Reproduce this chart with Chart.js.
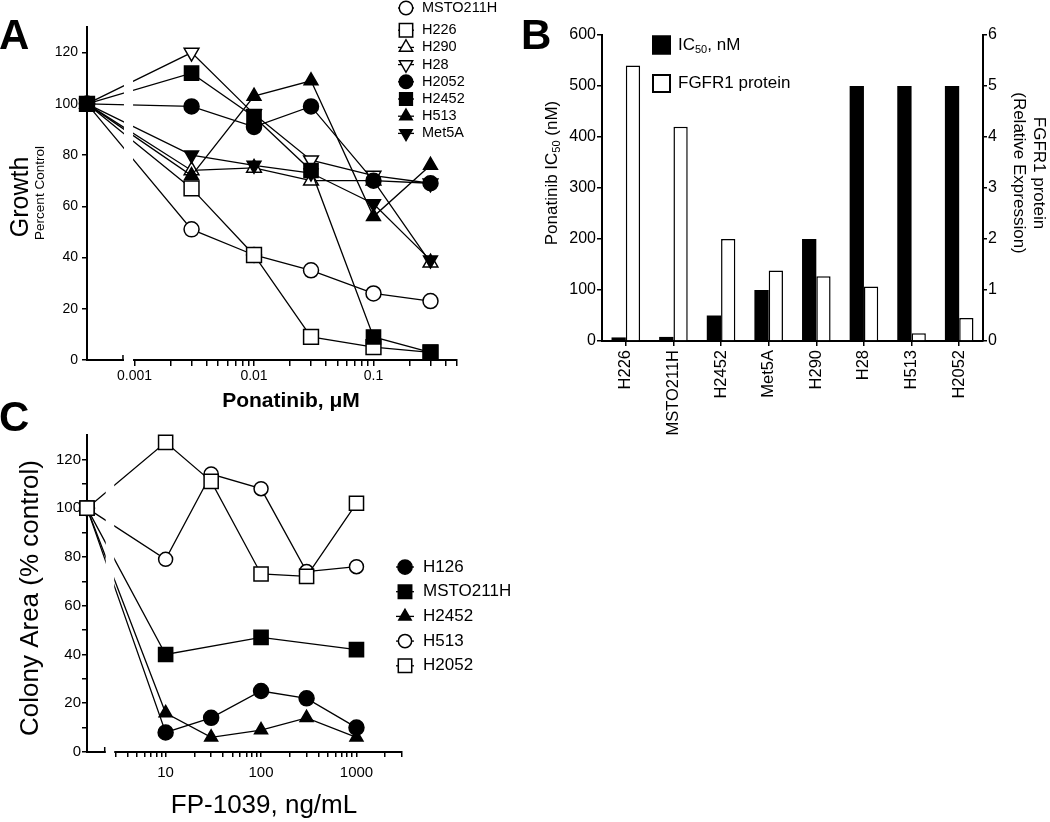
<!DOCTYPE html>
<html>
<head>
<meta charset="utf-8">
<script src="https://cdn.jsdelivr.net/npm/chart.js@4.4.1/dist/chart.umd.min.js"></script>
<style>
  html, body { margin: 0; padding: 0; background: #fff; }
  body { width: 1050px; height: 822px; position: relative; overflow: hidden; }
  canvas { position: absolute; }
  .tag { position: absolute; font: bold 42px 'Liberation Sans', Arial, sans-serif; line-height: 42px; color: #000; }
</style>
</head>
<body>
<canvas id="chartA" width="520" height="420" style="left:0;top:0;width:520px;height:420px"></canvas>
<canvas id="chartB" width="530" height="450" style="left:520px;top:0;width:530px;height:450px"></canvas>
<canvas id="chartC" width="520" height="402" style="left:0;top:420px;width:520px;height:402px"></canvas>
<div class="tag" style="left:-1px;top:14px">A</div>
<div class="tag" style="left:521px;top:14px">B</div>
<div class="tag" style="left:-1px;top:396px">C</div>
<script>
// ---- Panel A: Ponatinib, growth (% of control) ----
const CONTROL_A = 0.0004;   // where the untreated control sits on the broken log axis
const doseA = [CONTROL_A, 0.003, 0.01, 0.03, 0.1, 0.3];
const msto211hA = [100, 51, 41, 35, 26, 23];
const h226A = [100, 67, 41, 9, 5, 3];
const h290A = [100, 74, 75, 70, 70, 38];
const h28A = [100, 120, 96, 78, 72, 69];
const h2052A = [100, 99, 91, 99, 70, 69];
const h2452A = [100, 112, 95, 74, 9, 3];
const h513A = [100, 72, 103, 109, 56, 76];
const met5aA = [100, 80, 76, 73, 61, 39];
const yTicksA = [0, 20, 40, 60, 80, 100, 120];
const xLabelsA = ['0.001', '0.01', '0.1'];

// ---- Panel B: IC50 vs FGFR1 protein ----
const cellsB = ['H226', 'MSTO211H', 'H2452', 'Met5A', 'H290', 'H28', 'H513', 'H2052'];
const ic50B = [7, 8, 50, 100, 200, 500, 500, 500];
const fgfr1B = [5.4, 4.2, 2.0, 1.38, 1.27, 1.07, 0.15, 0.45];

// ---- Panel C: FP-1039, colony area (% control) ----
const CONTROL_C = 1.5;
const doseC = [CONTROL_C, 10, 30, 100, 300, 1000];
const h126C = [100, 8, 14, 25, 22, 10];
const msto211hC = [100, 40, null, 47, null, 42];
const h2452C = [100, 16, 6, 9, 14, 6];
const h513C = [100, 79, 114, 108, 74, 76];
const h2052C = [100, 127, 111, 73, 72, 102];
const yTicksC = [0, 10, 20, 30, 40, 50, 60, 70, 80, 90, 100, 110, 120];
const xLabelsC = ['10', '100', '1000'];

const FONT = "'Liberation Sans', Arial, Helvetica, sans-serif";
Chart.defaults.font.family = FONT;
Chart.defaults.color = '#000';

// marker looks
const OPEN_CIRCLE = { style: 'circle', fill: '#fff', r: 7.5, rot: 0 };
const OPEN_SQUARE = { style: 'rect', fill: '#fff', r: 10.5, rot: 0 };
const OPEN_UP = { style: 'triangle', fill: '#fff', r: 8.5, rot: 0 };
const OPEN_DOWN = { style: 'triangle', fill: '#fff', r: 8.5, rot: 180 };
const DOT = { style: 'circle', fill: '#000', r: 7.5, rot: 0 };
const BLOCK = { style: 'rect', fill: '#000', r: 10, rot: 0 };
const UP = { style: 'triangle', fill: '#000', r: 8, rot: 0 };
const DOWN = { style: 'triangle', fill: '#000', r: 8, rot: 180 };

// log axis ticks 1..9 x each decade, between two values
function logTicks(from, to) {
  const out = [];
  for (let e = Math.floor(Math.log10(from)); e <= Math.ceil(Math.log10(to)); e++) {
    for (let m = 1; m <= 9; m++) {
      const v = +(m * Math.pow(10, e)).toPrecision(6);
      if (v >= from * 0.999 && v <= to * 1.001) out.push(v);
    }
  }
  return out;
}
function labelFor(v, list) {
  const hit = list.find(l => Math.abs(Math.log10(v) - Math.log10(+l)) < 1e-6);
  return hit || '';
}

function lineSeries(label, values, xs, mk, i, n) {
  return {
    label,
    data: xs.map((x, k) => ({ x, y: values[k] })),
    borderColor: '#000',
    borderWidth: 1.3,
    pointStyle: mk.style,
    pointRotation: mk.rot,
    pointRadius: mk.r,
    pointHoverRadius: mk.r,
    pointBackgroundColor: mk.fill,
    pointBorderColor: '#000',
    pointBorderWidth: 1.5,
    spanGaps: true,
    tension: 0,
    clip: false,
    order: n - i   // later series on top, like the original
  };
}

function drawMarker(ctx, ds, x, y, k) {
  const r = ds.pointRadius * k;
  ctx.save();
  ctx.fillStyle = ds.pointBackgroundColor;
  ctx.strokeStyle = '#000';
  ctx.lineWidth = 1.5;
  ctx.beginPath();
  if (ds.pointStyle === 'circle') {
    ctx.arc(x, y, r, 0, Math.PI * 2);
  } else if (ds.pointStyle === 'rect') {
    const s = r * Math.SQRT1_2;
    ctx.rect(x - s, y - s, 2 * s, 2 * s);
  } else {
    const d = ds.pointRotation === 180 ? -1 : 1;
    ctx.moveTo(x, y - d * r);
    ctx.lineTo(x + r * 0.866, y + d * r / 2);
    ctx.lineTo(x - r * 0.866, y + d * r / 2);
    ctx.closePath();
  }
  ctx.fill();
  ctx.stroke();
  ctx.restore();
}

function drawRich(ctx, it) {
  ctx.save();
  ctx.translate(it.x, it.y);
  ctx.rotate((it.rot || 0) * Math.PI / 180);
  ctx.fillStyle = '#000';
  ctx.textBaseline = 'middle';
  ctx.textAlign = 'left';
  const widths = it.parts.map(p => { ctx.font = p.font; return ctx.measureText(p.t).width; });
  let x = it.align === 'left' ? 0 : -widths.reduce((a, b) => a + b, 0) / 2;
  it.parts.forEach((p, i) => {
    ctx.font = p.font;
    ctx.fillText(p.t, x, p.dy || 0);
    x += widths[i];
  });
  ctx.restore();
}

// gap in the x axis (and the lines crossing it)
const axisBreak = {
  id: 'axisBreak',
  afterDatasetsDraw(chart, args, opts) {
    const sx = chart.scales.x;
    const { top, bottom } = chart.chartArea;
    const a = sx.getPixelForValue(opts.from);
    const b = sx.getPixelForValue(opts.to);
    const ctx = chart.ctx;
    ctx.save();
    ctx.fillStyle = '#fff';
    ctx.fillRect(a + 1, top - 10, b - a - 2.5, bottom - top + 12);
    ctx.strokeStyle = '#000';
    ctx.lineWidth = 1.5;
    ctx.beginPath();
    ctx.moveTo(a, bottom - 5);
    ctx.lineTo(a, bottom + 1);
    ctx.stroke();
    ctx.restore();
  }
};

const markerLegend = {
  id: 'markerLegend',
  afterDraw(chart, args, o) {
    const ctx = chart.ctx;
    chart.data.datasets.forEach((ds, i) => {
      const y = o.y + i * o.step + (i > 0 ? (o.extra || 0) : 0);
      ctx.save();
      ctx.strokeStyle = '#000';
      ctx.lineWidth = 1.3;
      ctx.beginPath();
      ctx.moveTo(o.x - o.half, y);
      ctx.lineTo(o.x + o.half, y);
      ctx.stroke();
      ctx.restore();
      drawMarker(ctx, ds, o.x, y, o.scale);
      drawRich(ctx, { x: o.textX, y, align: 'left', parts: [{ t: ds.label, font: o.font }] });
    });
  }
};

const barLegend = {
  id: 'barLegend',
  afterDraw(chart, args, o) {
    const ctx = chart.ctx;
    chart.data.datasets.forEach((ds, i) => {
      const y = o.y + i * o.step;
      ctx.save();
      ctx.fillStyle = ds.backgroundColor;
      ctx.strokeStyle = '#000';
      ctx.lineWidth = 2;
      ctx.fillRect(o.x, y - o.size / 2, o.size, o.size);
      ctx.strokeRect(o.x + 1, y - o.size / 2 + 1, o.size - 2, o.size - 2);
      ctx.restore();
      drawRich(ctx, { x: o.textX, y, align: 'left', parts: o.labels[i] });
    });
  }
};

const panelText = {
  id: 'panelText',
  afterDraw(chart, args, o) {
    (o.items || []).forEach(it => drawRich(chart.ctx, it));
  }
};

function axisLook(tickLength) {
  return {
    grid: { display: true, drawOnChartArea: false, drawTicks: true, tickLength, color: '#000', lineWidth: 1.5 },
    border: { display: true, color: '#000', width: 2 }
  };
}

// ---------- Chart A ----------
const seriesA = [
  ['MSTO211H', msto211hA, OPEN_CIRCLE],
  ['H226', h226A, OPEN_SQUARE],
  ['H290', h290A, OPEN_UP],
  ['H28', h28A, OPEN_DOWN],
  ['H2052', h2052A, DOT],
  ['H2452', h2452A, BLOCK],
  ['H513', h513A, UP],
  ['Met5A', met5aA, DOWN]
];
const xTicksA = logTicks(0.001, 0.5);

new Chart(document.getElementById('chartA'), {
  type: 'line',
  data: { datasets: seriesA.map((s, i) => lineSeries(s[0], s[1], doseA, s[2], i, seriesA.length)) },
  options: {
    responsive: false,
    animation: false,
    devicePixelRatio: 1,
    layout: { padding: { top: 27, right: 63, bottom: 0, left: 0 } },
    plugins: {
      legend: { display: false },
      tooltip: { enabled: false },
      axisBreak: { from: 0.0008, to: 0.001 },
      markerLegend: { x: 406, y: 8, step: 17.2, extra: 5, half: 8, textX: 422, scale: 0.9, font: `14.5px ${FONT}` },
      panelText: {
        items: [
          { x: 21, y: 197, rot: -90, parts: [{ t: 'Growth', font: `25px ${FONT}` }] },
          { x: 40, y: 193, rot: -90, parts: [{ t: 'Percent Control', font: `13.5px ${FONT}` }] },
          { x: 291, y: 401, parts: [{ t: 'Ponatinib, μM', font: `bold 21px ${FONT}` }] }
        ]
      }
    },
    scales: {
      x: {
        type: 'logarithmic',
        min: CONTROL_A,
        max: 0.5,
        afterBuildTicks: s => { s.ticks = xTicksA.map(v => ({ value: v })); },
        afterFit: s => { s.height = 60; },
        ticks: { autoSkip: false, maxRotation: 0, padding: 2, font: { size: 14 }, callback: v => labelFor(v, xLabelsA) },
        ...axisLook(6)
      },
      y: {
        min: 0,
        max: 130,
        afterBuildTicks: s => { s.ticks = yTicksA.map(v => ({ value: v })); },
        afterFit: s => { s.width = 87; },
        ticks: { padding: 4, font: { size: 14 } },
        ...axisLook(5)
      }
    }
  },
  plugins: [axisBreak, markerLegend, panelText]
});

// ---------- Chart B ----------
const subFont = `11px ${FONT}`;
const bFont = `17px ${FONT}`;
new Chart(document.getElementById('chartB'), {
  type: 'bar',
  data: {
    labels: cellsB,
    datasets: [
      { label: 'IC50, nM', data: ic50B, yAxisID: 'y', backgroundColor: '#000', borderColor: '#000', borderWidth: 0, categoryPercentage: 0.6, barPercentage: 1 },
      { label: 'FGFR1 protein', data: fgfr1B, yAxisID: 'y1', backgroundColor: '#fff', borderColor: '#000', borderWidth: 1.5, categoryPercentage: 0.6, barPercentage: 1 }
    ]
  },
  options: {
    responsive: false,
    animation: false,
    devicePixelRatio: 1,
    layout: { padding: { top: 35, right: 7, bottom: 0, left: 0 } },
    plugins: {
      legend: { display: false },
      tooltip: { enabled: false },
      barLegend: {
        x: 132, y: 45, step: 38.5, size: 19, textX: 158,
        labels: [
          [{ t: 'IC', font: bFont }, { t: '50', font: subFont, dy: 5 }, { t: ', nM', font: bFont }],
          [{ t: 'FGFR1 protein', font: bFont }]
        ]
      },
      panelText: {
        items: [
          { x: 32, y: 173, rot: -90, parts: [{ t: 'Ponatinib IC', font: bFont }, { t: '50', font: subFont, dy: 5 }, { t: ' (nM)', font: bFont }] },
          { x: 519, y: 173, rot: 90, parts: [{ t: 'FGFR1 protein', font: bFont }] },
          { x: 499, y: 173, rot: 90, parts: [{ t: '(Relative Expression)', font: bFont }] }
        ]
      }
    },
    scales: {
      x: {
        type: 'category',
        offset: true,
        afterFit: s => { s.height = 109; },
        ticks: { autoSkip: false, minRotation: 90, maxRotation: 90, padding: 4, font: { size: 16.5 } },
        ...axisLook(5),
        grid: { display: true, offset: false, drawOnChartArea: false, tickLength: 5, color: '#000', lineWidth: 1.5 }
      },
      y: {
        position: 'left',
        min: 0,
        max: 600,
        afterFit: s => { s.width = 82; },
        ticks: { stepSize: 100, padding: 1, font: { size: 16 } },
        ...axisLook(5)
      },
      y1: {
        position: 'right',
        min: 0,
        max: 6,
        afterFit: s => { s.width = 60; },
        ticks: { stepSize: 1, padding: 1, font: { size: 16 } },
        ...axisLook(4)
      }
    }
  },
  plugins: [barLegend, panelText]
});

// ---------- Chart C ----------
const seriesC = [
  ['H126', h126C, DOT],
  ['MSTO211H', msto211hC, BLOCK],
  ['H2452', h2452C, { style: 'triangle', fill: '#000', r: 7.5, rot: 0 }],
  ['H513', h513C, { style: 'circle', fill: '#fff', r: 7, rot: 0 }],
  ['H2052', h2052C, { style: 'rect', fill: '#fff', r: 10, rot: 0 }]
];
const xTicksC = logTicks(3, 3000);

new Chart(document.getElementById('chartC'), {
  type: 'line',
  data: { datasets: seriesC.map((s, i) => lineSeries(s[0], s[1], doseC, s[2], i, seriesC.length)) },
  options: {
    responsive: false,
    animation: false,
    devicePixelRatio: 1,
    layout: { padding: { top: 15, right: 118, bottom: 0, left: 0 } },
    plugins: {
      legend: { display: false },
      tooltip: { enabled: false },
      axisBreak: { from: 2.3, to: 3 },
      markerLegend: { x: 405, y: 147, step: 24.7, half: 9, textX: 423, scale: 0.95, font: `17px ${FONT}` },
      panelText: {
        items: [
          { x: 31, y: 178, rot: -90, parts: [{ t: 'Colony Area (% control)', font: `26px ${FONT}` }] },
          { x: 264, y: 386, parts: [{ t: 'FP-1039, ng/mL', font: `26px ${FONT}` }] }
        ]
      }
    },
    scales: {
      x: {
        type: 'logarithmic',
        min: CONTROL_C,
        max: 3000,
        afterBuildTicks: s => { s.ticks = xTicksC.map(v => ({ value: v })); },
        afterFit: s => { s.height = 70; },
        ticks: { autoSkip: false, maxRotation: 0, padding: 7, font: { size: 15 }, callback: v => labelFor(v, xLabelsC) },
        ...axisLook(5)
      },
      y: {
        min: 0,
        max: 130,
        afterBuildTicks: s => { s.ticks = yTicksC.map(v => ({ value: v })); },
        afterFit: s => { s.width = 87; },
        ticks: { padding: 1, font: { size: 15 }, callback: v => (v % 20 === 0 ? String(v) : '') },
        ...axisLook(5)
      }
    }
  },
  plugins: [axisBreak, markerLegend, panelText]
});
</script>
</body>
</html>
